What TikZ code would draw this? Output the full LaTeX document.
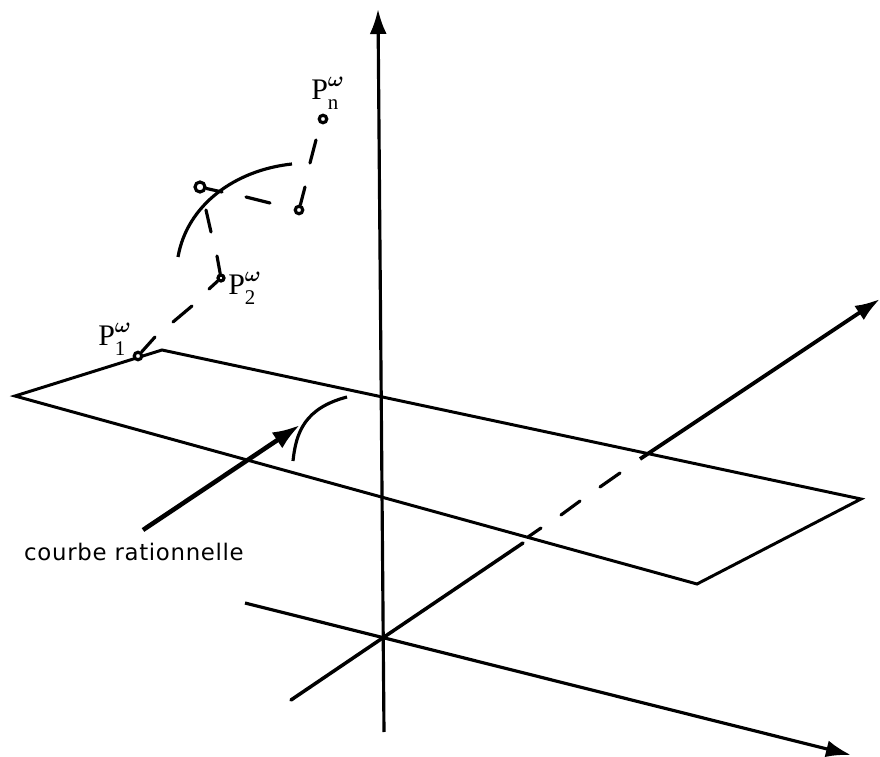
\documentclass[tikz,border=0pt]{standalone}
\usepackage{amsmath,bm}
\usepackage{fontspec}
\setmainfont{Liberation Serif}
\newfontfamily\labelfont[LetterSpace=3]{DejaVu Sans}
\usepackage{tikz}
\usetikzlibrary{arrows.meta}
\tikzset{
  axis/.style={-{Latex[length=0.5cm,width=0.34cm]}, line width=1.8pt, color=black},
  edge/.style={line width=1.7pt, color=black},
  dashpart/.style={line width=1.8pt, color=black, line cap=round},
  curvepart/.style={line width=1.8pt, color=black},
  pointer/.style={-{Latex[length=0.55cm,width=0.38cm]}, line width=2.6pt, color=black},
  ctrlpt/.style={circle, draw=black, fill=white, line width=1.8pt, minimum size=0.15cm, inner sep=0pt},
  ptlabel/.style={font=\fontsize{17}{17}\selectfont, inner sep=0pt}
}
\newcommand{\ptname}[1]{P$^{\raisebox{1.5pt}{$\scriptstyle\bm{\omega}$}}_{\raisebox{-1pt}{$\scriptstyle\mathrm{#1}$}}$}
\begin{document}
\begin{tikzpicture}[x=0.02cm, y=-0.02cm]
  \useasboundingbox (0,0) rectangle (880,757);

  % Plane corners
  \coordinate (pa) at (15,396);
  \coordinate (pb) at (162,350);
  \coordinate (pc) at (861,499);
  \coordinate (pd) at (697,584);
  \draw[edge, line join=miter] (pa) -- (pb) -- (pc) -- (pd) -- cycle;

  % Axes
  \coordinate (zlow) at (384,732);
  \coordinate (ztop) at (378,9);
  \coordinate (xlow) at (245,603);
  \coordinate (xtop) at (851,755);
  \coordinate (ylow) at (291,700);
  \coordinate (ymid) at (523,543);
  \coordinate (yend) at (640,459);
  \coordinate (ytop) at (880,299);
  \draw[axis] (zlow) -- (ztop);
  \draw[axis] (xlow) -- (xtop);
  \draw[edge, line width=2pt, line cap=round] (ylow) -- (ymid);
  \draw[axis, line width=2.2pt] (yend) -- (ytop);
  \draw[dashpart] (528,537) -- (541,528);
  \draw[dashpart] (561,515) -- (580,501);
  \draw[dashpart] (600,487) -- (620,473);

  % Curve on the plane and its pointer
  \coordinate (low1) at (293,461);
  \coordinate (low2) at (347,397);
  \coordinate (ptrfrom) at (143,530);
  \coordinate (ptrto) at (300,425);
  \draw[curvepart] (low1) .. controls (296,432) and (305,408) .. (low2);
  \draw[pointer] (ptrfrom) -- (ptrto);
  \node[font=\labelfont\fontsize{13}{13}\selectfont, inner sep=0pt] (ratlabel) at (134,552) {courbe rationnelle};

  % Curve in space
  \coordinate (up1) at (178,257);
  \coordinate (up2) at (292,164);
  \draw[curvepart] (up1) .. controls (187,205) and (235,170) .. (up2);

  % Control points
  \node[ctrlpt] (p1) at (138,356) {};
  \node[ctrlpt, minimum size=0.12cm] (p2) at (221,278) {};
  \node[ctrlpt, minimum size=0.2cm] (p3) at (200,187) {};
  \node[ctrlpt] (p4) at (299,210) {};
  \node[ctrlpt] (pn) at (323,119) {};

  % Control polygon, broken by hand
  \draw[dashpart] (p1) -- (155,337);
  \draw[dashpart] (173,322) -- (192,306);
  \draw[dashpart] (209,289) -- (p2);
  \draw[dashpart] (p2) -- (217,256);
  \draw[dashpart] (211,232) -- (206,210);
  \draw[dashpart] (p3) -- (222,192);
  \draw[dashpart] (246,197) -- (270,203);
  \draw[dashpart] (p4) -- (305,187);
  \draw[dashpart] (310,163) -- (316,140);

  \node[ptlabel] (lab1) at (115,339) {\ptname{1}};
  \node[ptlabel] (lab2) at (245,288) {\ptname{2}};
  \node[ptlabel] (labn) at (328,93) {\ptname{n}};
\end{tikzpicture}
\end{document}
